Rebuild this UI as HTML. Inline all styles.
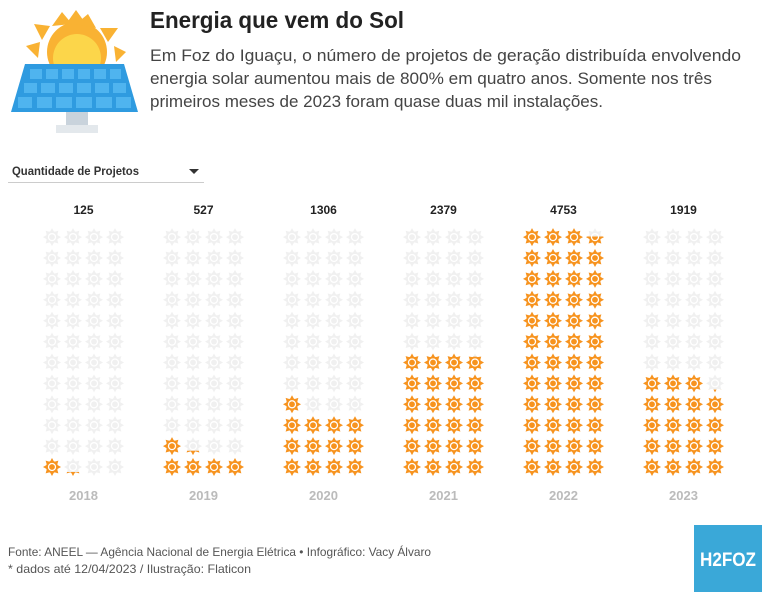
<!DOCTYPE html>
<html><head><meta charset="utf-8"><style>
html,body{margin:0;padding:0;background:#fff;}
svg{display:block;}
text{font-family:"Liberation Sans",sans-serif;}
</style></head><body>
<svg id="s" width="768" height="599" viewBox="0 0 768 599" xmlns="http://www.w3.org/2000/svg">
<defs>
<symbol id="sun" viewBox="-10 -10 20 20" overflow="visible">
<g>
<polygon points="0,-10 2.2,-6 -2.2,-6"/>
<polygon points="0,-10 2.2,-6 -2.2,-6" transform="rotate(45)"/>
<polygon points="0,-10 2.2,-6 -2.2,-6" transform="rotate(90)"/>
<polygon points="0,-10 2.2,-6 -2.2,-6" transform="rotate(135)"/>
<polygon points="0,-10 2.2,-6 -2.2,-6" transform="rotate(180)"/>
<polygon points="0,-10 2.2,-6 -2.2,-6" transform="rotate(225)"/>
<polygon points="0,-10 2.2,-6 -2.2,-6" transform="rotate(270)"/>
<polygon points="0,-10 2.2,-6 -2.2,-6" transform="rotate(315)"/>
<circle r="6.6"/>
<circle r="4.6" fill="#fff"/>
<circle r="3.2"/>
</g>
</symbol>
</defs>
<!-- header icon -->
<g>
<g fill="#f9b233">
<circle cx="77" cy="52" r="30"/>
<polygon points="62,12 72,24 52,26"/><polygon points="88,14 96,28 76,24"/>
<polygon points="34,24 50,26 42,40"/><polygon points="118,28 108,42 100,28"/>
<polygon points="26,46 40,42 38,58"/><polygon points="126,52 116,62 114,46"/>
<polygon points="76,10 86,24 66,24"/>
</g>
<circle cx="77" cy="58" r="24" fill="#fcd64a"/>
<polygon points="25,64 124,64 138,112 11,112" fill="#2f9be0"/>
<g fill="#4fb4ef">
<rect x="30" y="69" width="12" height="10"/><rect x="46" y="69" width="12" height="10"/><rect x="62" y="69" width="12" height="10"/><rect x="78" y="69" width="12" height="10"/><rect x="94" y="69" width="12" height="10"/><rect x="110" y="69" width="11" height="10"/>
<rect x="24" y="83" width="13" height="10"/><rect x="41" y="83" width="14" height="10"/><rect x="59" y="83" width="14" height="10"/><rect x="77" y="83" width="14" height="10"/><rect x="95" y="83" width="14" height="10"/><rect x="113" y="83" width="13" height="10"/>
<rect x="18" y="97" width="14" height="11"/><rect x="37" y="97" width="15" height="11"/><rect x="56" y="97" width="16" height="11"/><rect x="76" y="97" width="16" height="11"/><rect x="96" y="97" width="16" height="11"/><rect x="116" y="97" width="15" height="11"/>
</g>
<rect x="66" y="112" width="22" height="14" fill="#c9d3dc"/>
<rect x="56" y="125" width="42" height="8" fill="#e3e8ec"/>
</g>
<text x="150" y="28" font-size="23" font-weight="bold" fill="#222" textLength="254" lengthAdjust="spacingAndGlyphs">Energia que vem do Sol</text>
<g font-size="17" fill="#444">
<text x="150" y="61" textLength="591" lengthAdjust="spacingAndGlyphs">Em Foz do Iguaçu, o número de projetos de geração distribuída envolvendo</text>
<text x="150" y="84" textLength="562" lengthAdjust="spacingAndGlyphs">energia solar aumentou mais de 800% em quatro anos. Somente nos três</text>
<text x="150" y="107" textLength="453" lengthAdjust="spacingAndGlyphs">primeiros meses de 2023 foram quase duas mil instalações.</text>
</g>
<text x="12" y="175" font-size="12" font-weight="bold" fill="#333" textLength="127" lengthAdjust="spacingAndGlyphs">Quantidade de Projetos</text>
<polygon points="189,169 199,169 194,174" fill="#333"/>
<rect x="8" y="182" width="196" height="1" fill="#ccc"/>
<g id="grid"></g>
<g font-size="12" fill="#555">
<text x="8" y="556" textLength="423" lengthAdjust="spacingAndGlyphs">Fonte: ANEEL — Agência Nacional de Energia Elétrica • Infográfico: Vacy Álvaro</text>
<text x="8" y="573" textLength="243" lengthAdjust="spacingAndGlyphs">* dados até 12/04/2023 / Ilustração: Flaticon</text>
</g>
<rect x="694" y="525" width="68" height="67" fill="#3aa8d8"/>
<text x="728" y="566" font-size="19" font-weight="bold" fill="#fff" text-anchor="middle" textLength="56" lengthAdjust="spacingAndGlyphs">H2FOZ</text>
</svg>
<script>
(function(){
var vals=[125,527,1306,2379,4753,1919],years=[2018,2019,2020,2021,2022,2023];
var g=document.getElementById("grid"),h="";
for(var k=0;k<6;k++){
 var x0=52+k*120,cx=x0+31.5,n=vals[k]/100;
 h+='<text x="'+cx+'" y="214" font-size="12" font-weight="bold" fill="#222" text-anchor="middle">'+vals[k]+'</text>';
 h+='<text x="'+cx+'" y="500" font-size="13" font-weight="bold" fill="#bbb" text-anchor="middle">'+years[k]+'</text>';
 for(var r=0;r<12;r++)for(var c=0;c<4;c++){
  var i=r*4+c,x=x0+c*21,y=467-r*20.9,f=Math.max(0,Math.min(1,n-i));
  h+='<use href="#sun" x="'+(x-9)+'" y="'+(y-9)+'" width="18" height="18" fill="#f0f0f0"/>';
  if(f>0){
   var ty=y-10+20*(1-f);
   h+='<svg x="'+(x-10)+'" y="'+ty+'" width="20" height="'+(20*f)+'" overflow="hidden"><use href="#sun" x="1" y="'+(y-9-ty)+'" width="18" height="18" fill="#f7931e"/></svg>';
  }
 }
}
g.innerHTML=h;
})();
</script>
</body></html>
